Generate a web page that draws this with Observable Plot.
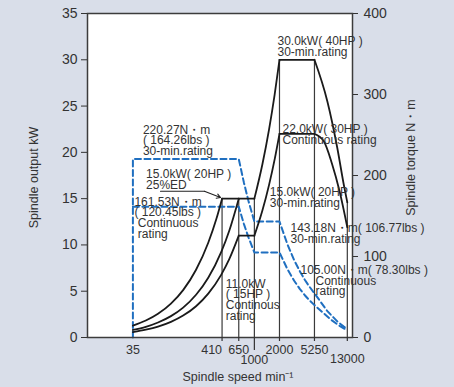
<!DOCTYPE html>
<html><head><meta charset="utf-8">
<script src="https://cdn.jsdelivr.net/npm/d3@7"></script>
<script src="https://cdn.jsdelivr.net/npm/@observablehq/plot@0.6"></script>
<style>
html,body{margin:0;padding:0;background:#d9dee9;}
</style></head><body><div id="chart"></div>
<script>
// ---- axes / ticks ----
const kwTicks = [0, 5, 10, 15, 20, 25, 30, 35];
const torqueTicks = [0, 100, 200, 300, 400];
const speedTicks = [35, 410, 650, 1000, 2000, 5250, 13000];
const kwMax = 35, torqueMax = 400;

// ---- spindle output (kW) ----
// 25%ED rise to 15 kW at 410 min-1
const edSpeed = [35, 50, 70, 100, 140, 200, 280, 350, 410];
const edKw    = [1.28, 1.83, 2.56, 3.66, 5.12, 7.32, 10.24, 12.8, 15.0];
const edFlatSpeed = [410, 650];
const edFlatKw    = [15, 15];
// 30-min rating
const m30LowSpeed = [35, 50, 70, 100, 140, 200, 280, 400, 500, 650];
const m30LowKw    = [0.81, 1.15, 1.62, 2.31, 3.23, 4.62, 6.46, 9.23, 11.54, 15.0];
const m30Flat1Speed = [650, 1000];
const m30Flat1Kw    = [15, 15];
const m30MidSpeed = [1000, 1250, 1500, 1750, 2000];
const m30MidKw    = [15, 18.74, 22.49, 26.24, 30];
const m30Flat2Speed = [2000, 5250];
const m30Flat2Kw    = [30, 30];
const m30HighSpeed = [5250, 7500, 9850, 11800, 13000];
const m30HighKw    = [30, 25.5, 20.5, 16.5, 14.6];
// continuous rating
const contLowSpeed = [35, 50, 70, 100, 140, 200, 280, 400, 500, 650];
const contLowKw    = [0.59, 0.85, 1.18, 1.69, 2.37, 3.38, 4.74, 6.77, 8.46, 11.0];
const contFlat1Speed = [650, 1000];
const contFlat1Kw    = [11, 11];
const contMidSpeed = [1000, 1250, 1500, 1750, 2000];
const contMidKw    = [11, 13.74, 16.49, 19.24, 22];
const contFlat2Speed = [2000, 5250];
const contFlat2Kw    = [22, 22];
const contHighSpeed = [5250, 6800, 8500, 10500, 13000];
const contHighKw    = [22, 21.2, 18.8, 15.8, 11.9];

// ---- spindle torque (N·m) ----
const t30Speed  = [35, 35, 650, 750, 850, 1000, 2000, 2500, 3000, 3500, 4000, 4500, 5250, 7500, 9850, 11800, 13000];
const t30Torque = [0, 220.27, 220.27, 191, 168.5, 143.18, 143.18, 114.6, 95.5, 81.9, 71.6, 63.7, 54.6, 32.5, 19.9, 13.4, 10.7];
const tContSpeed  = [35, 650, 750, 850, 1000, 2000, 2500, 3000, 3500, 4000, 4500, 5250, 6800, 8500, 10500, 13000];
const tContTorque = [161.53, 161.53, 140, 123.6, 105, 105, 84, 70, 60, 52.5, 46.7, 40, 29.8, 21.1, 14.4, 8.7];

// ---- vertical guide lines ----
const guideSpeed = [410, 650, 1000, 2000, 5250, 13000];
const guideTopKw = [15, 15, 15, 30, 30, 14.6];

// leader for 25%ED label
const leaderSpeed = [75, 252, 393];
const leaderKw    = [15.8, 15.8, 15.12];

const W = 454, H = 387, ML = 87, MR = 102, MT = 13, MB = 50;
const pxPerKw = (H - MT - MB) / kwMax;
const toKw = t => t * kwMax / torqueMax;
const seg = (id, s, v) => s.map((sp, i) => ({id, speed: sp, kw: v[i]}));

const powerRows = [
  ...seg("ed", edSpeed, edKw), ...seg("edf", edFlatSpeed, edFlatKw),
  ...seg("m30a", m30LowSpeed, m30LowKw), ...seg("m30b", m30Flat1Speed, m30Flat1Kw),
  ...seg("m30c", m30MidSpeed, m30MidKw), ...seg("m30d", m30Flat2Speed, m30Flat2Kw),
  ...seg("m30e", m30HighSpeed, m30HighKw),
  ...seg("ca", contLowSpeed, contLowKw), ...seg("cb", contFlat1Speed, contFlat1Kw),
  ...seg("cc", contMidSpeed, contMidKw), ...seg("cd", contFlat2Speed, contFlat2Kw),
  ...seg("ce", contHighSpeed, contHighKw)
];
const torqueRows = [
  ...t30Speed.map((s, i) => ({id: "t30", speed: s, kw: toKw(t30Torque[i])})),
  ...tContSpeed.map((s, i) => ({id: "tc", speed: s, kw: toKw(tContTorque[i])}))
];
const leaderRows = leaderSpeed.slice(0, 2).map((s, i) => ({speed: s, kw: leaderKw[i]}));

const TXT = "#333";
const FONT = "'Liberation Sans', Arial, Helvetica, sans-serif";
const note = (t, speed, kw, dx, dy) => Plot.text([{t, speed, kw}], {
  x: "speed", y: "kw", text: "t", dx, dy, textAnchor: "start", lineAnchor: "bottom",
  fontSize: 12, lineHeight: 0.89, fill: TXT
});
// bottom axis pieces (ticks below frame, labels)
const xTick = (vals, len) => Plot.ruleX(vals, {x: d => d, y1: 0, y2: -len / pxPerKw, stroke: "#333", strokeWidth: 1.2});
const xLabel = (vals, dy, anchor = "middle") => Plot.text(vals, {x: d => d, text: d => String(d), frameAnchor: "bottom",
  lineAnchor: "top", textAnchor: anchor, dy, fontSize: 12.5, fill: TXT});

const chart = Plot.plot({
  width: W, height: H,
  marginLeft: ML, marginRight: MR, marginTop: MT, marginBottom: MB,
  x: {type: "log", domain: [10, 15000], axis: null},
  y: {domain: [0, kwMax]},
  style: {background: "#d9dee9", fontFamily: FONT, color: TXT, overflow: "visible"},
  marks: [
    Plot.frame({fill: "white"}),
    Plot.ruleX(guideSpeed, {x: d => d, y1: 0, y2: (d, i) => guideTopKw[i], stroke: "#3a3a3a", strokeWidth: 1.2}),
    Plot.line(torqueRows, {x: "speed", y: "kw", z: "id", stroke: "#1f6fc0", strokeWidth: 2, strokeDasharray: "6,3.5"}),
    Plot.line(powerRows, {x: "speed", y: "kw", z: "id", curve: "monotone-x", stroke: "#1a1a1a", strokeWidth: 1.8}),
    Plot.line(leaderRows, {x: "speed", y: "kw", stroke: "#222", strokeWidth: 1.1}),
    Plot.arrow([0], {x1: leaderSpeed[1], y1: leaderKw[1], x2: leaderSpeed[2], y2: leaderKw[2], stroke: "#222", strokeWidth: 1.1, headLength: 6}),
    Plot.frame({stroke: "#3c3c3c", strokeWidth: 1.5}),
    Plot.axisY(kwTicks, {anchor: "left", tickSize: 6, tickPadding: 4, fontSize: 14, label: null, stroke: "#333", fill: TXT}),
    Plot.axisY(torqueTicks.map(toKw), {anchor: "right", tickSize: 5, tickPadding: 6, fontSize: 14, label: null, stroke: "#333", fill: TXT,
      tickFormat: d => String(Math.round(d * torqueMax / kwMax))}),
    xTick([speedTicks[1], speedTicks[2], speedTicks[4], speedTicks[5], speedTicks[6]], 4),
    xTick([speedTicks[3]], 13),
    xLabel([speedTicks[0], speedTicks[2], speedTicks[4], speedTicks[5]], 8),
    xLabel([speedTicks[1]], 8, "end"),
    xLabel([speedTicks[3]], 18),
    xLabel([speedTicks[6]], 17),
    Plot.text(["Spindle output kW"], {frameAnchor: "left", rotate: -90, dx: -54, dy: 2, textAnchor: "middle", fontSize: 12.5, fill: TXT}),
    Plot.text(["Spindle torque N・m"], {frameAnchor: "right", rotate: -90, dx: 58, dy: -18, textAnchor: "middle", fontSize: 12.5, fill: TXT}),
    Plot.text(["Spindle speed min⁻¹"], {frameAnchor: "bottom", dx: 18, dy: 43, textAnchor: "middle", lineAnchor: "bottom", fontSize: 12.5, fill: TXT}),
    note("30.0kW( 40HP )\n30-min.rating", 2000, 30, -2, -4),
    note("22.0kW( 30HP )\nContinuous rating", 2000, 22, 3, 9.7),
    note("220.27N・m\n( 164.26lbs )\n30-min.rating", 35, toKw(220.27), 10, -4),
    note("15.0kW( 20HP )\n25%ED", 410, 15, -76, -9.5),
    note("161.53N・m\n( 120.45lbs )\n\u00a0Continuous\n\u00a0rating", 35, toKw(161.53), 1.5, 31),
    note("15.0kW( 20HP )\n30-min.rating", 1000, 15, 15.5, 8.5),
    note("143.18N・m( 106.77lbs )\n30-min.rating", 2000, toKw(143.18), 11, 21.5),
    note("105.00N・m( 78.30lbs )", 2000, toKw(105), 21, 22),
    note("Continuous\nrating", 2000, toKw(105), 36, 43),
    note("11.0kW\n( 15HP )\nContinous\nrating", 650, 11, -13, 84)
  ]
});
document.getElementById("chart").append(chart);
</script></body></html>
